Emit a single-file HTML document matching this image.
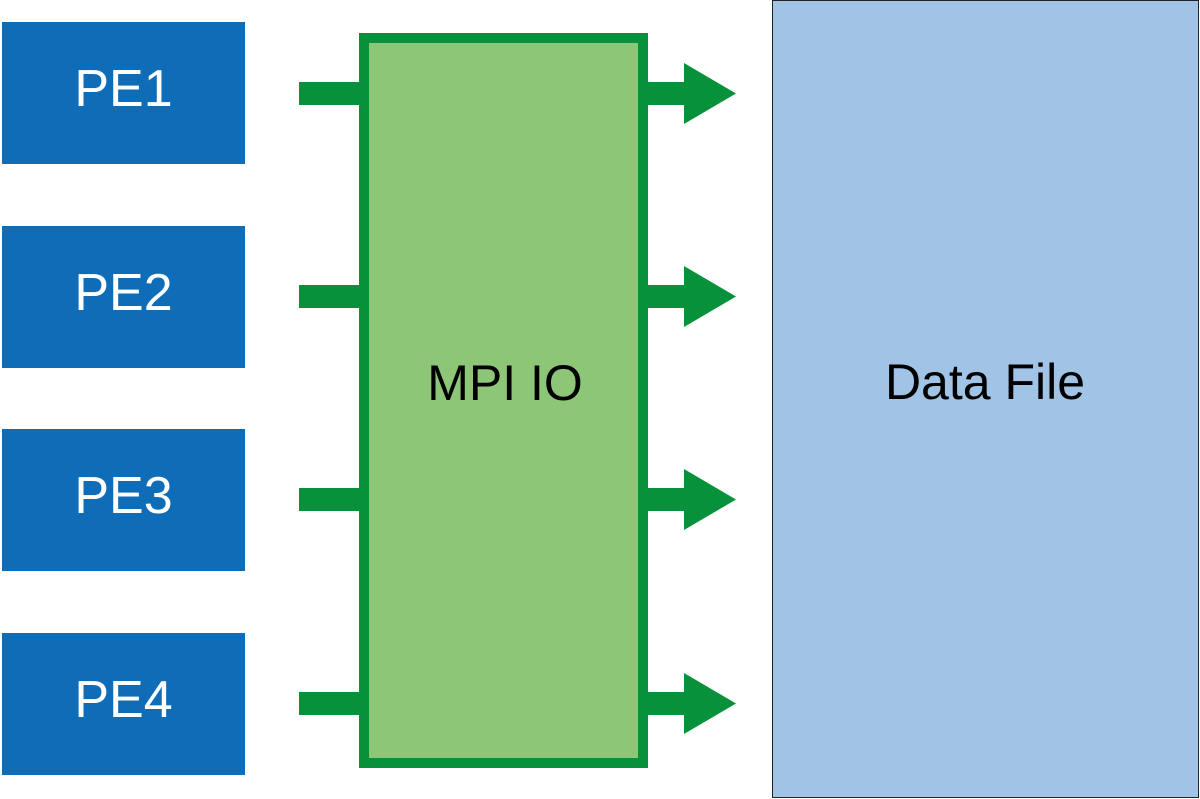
<!DOCTYPE html>
<html><head><meta charset="utf-8"><style>
html,body{margin:0;padding:0;background:#fff;}
body{width:1200px;height:799px;position:relative;overflow:hidden;font-family:"Liberation Sans",sans-serif;}
.pe{position:absolute;left:2px;width:243px;height:142px;background:#0f6db8;color:#fff;font-size:52px;display:flex;align-items:center;justify-content:center;}
.pe span{position:relative;top:-4px;}
</style></head><body>
<div class="pe" style="top:22px"><span>PE1</span></div>
<div class="pe" style="top:226px"><span>PE2</span></div>
<div class="pe" style="top:429px"><span>PE3</span></div>
<div class="pe" style="top:633px"><span>PE4</span></div>
<svg width="1200" height="799" style="position:absolute;left:0;top:0">
<rect x="772.5" y="0.5" width="426" height="797" fill="#a0c3e6" stroke="#222" stroke-width="1"/>
<g fill="#07913a">
<rect x="299" y="82" width="62" height="23"/>
<rect x="299" y="285" width="62" height="23"/>
<rect x="299" y="488" width="62" height="23"/>
<rect x="299" y="692" width="62" height="23"/>
<rect x="646" y="82" width="40" height="23"/><polygon points="684,63 736,93.5 684,124"/>
<rect x="646" y="285" width="40" height="23"/><polygon points="684,266 736,296.5 684,327"/>
<rect x="646" y="488" width="40" height="23"/><polygon points="684,469 736,499.5 684,530"/>
<rect x="646" y="692" width="40" height="23"/><polygon points="684,673 736,703.5 684,734"/>
</g>
<rect x="364" y="38" width="279" height="725" fill="#8ec677" stroke="#07913a" stroke-width="10"/>
<text x="505" y="400" font-size="50" text-anchor="middle" font-family="Liberation Sans, sans-serif" fill="#000">MPI IO</text>
<text x="985" y="399" font-size="50" text-anchor="middle" font-family="Liberation Sans, sans-serif" fill="#000">Data File</text>
</svg>
</body></html>
